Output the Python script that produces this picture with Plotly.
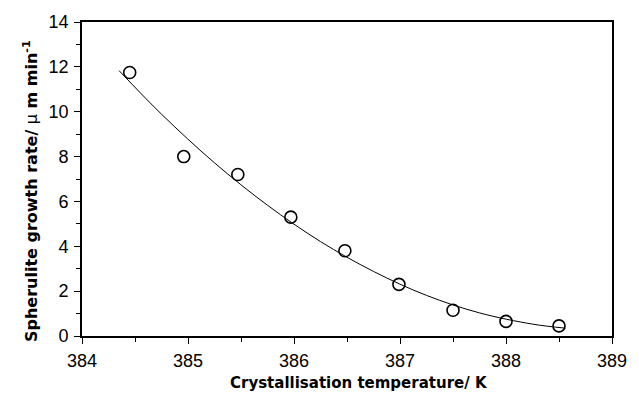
import plotly.graph_objects as go

# Measured spherulite growth rates
temperature_K = [384.45, 384.96, 385.47, 385.97, 386.48, 386.99, 387.50, 388.00, 388.50]
growth_rate = [11.75, 8.00, 7.20, 5.30, 3.80, 2.30, 1.15, 0.65, 0.45]

# Trend line through the data
fit_T = [384.35, 384.75, 385.25, 385.75, 386.25, 386.75, 387.25, 387.75, 388.25, 388.56]
fit_rate = [11.83, 9.89, 7.72, 5.83, 4.21, 2.88, 1.81, 1.03, 0.53, 0.35]

x_ticks = [384, 385, 386, 387, 388, 389]
y_ticks = [0, 2, 4, 6, 8, 10, 12, 14]

x_title = "<b>Crystallisation temperature/ K</b>"
y_title = "<b>Spherulite growth rate/ </b>\u03bc<b> m min</b><sup><b>-1</b></sup>"

fig = go.Figure()
fig.add_trace(go.Scatter(
    x=fit_T, y=fit_rate, mode="lines", line_shape="spline",
    line=dict(color="black", width=1), showlegend=False, hoverinfo="skip"))
fig.add_trace(go.Scatter(
    x=temperature_K, y=growth_rate, mode="markers",
    marker=dict(symbol="circle-open", size=12, color="black", line=dict(width=1.6)),
    showlegend=False))

axis_common = dict(
    showgrid=False, zeroline=False, showline=True, linecolor="black", linewidth=1.8,
    mirror=True, ticks="outside", ticklen=6, tickwidth=1.3, tickcolor="black",
    tickfont=dict(family="Liberation Sans, Arial", size=18, color="black"),
)

fig.update_xaxes(
    range=[384, 389], tickvals=x_ticks, ticktext=[str(v) for v in x_ticks],
    minor=dict(dtick=0.5, ticks="outside", ticklen=4, tickwidth=1.2, tickcolor="black"),
    ticklabelstandoff=1,
    **axis_common)
fig.update_yaxes(
    range=[0, 14], tickvals=y_ticks, ticktext=[str(v) for v in y_ticks],
    minor=dict(dtick=1, ticks="outside", ticklen=4, tickwidth=1.2, tickcolor="black"),
    ticklabelstandoff=2,
    **axis_common)

# Axis titles
fig.add_annotation(
    text=x_title, xref="paper", yref="paper", x=0.523, y=-0.149,
    xanchor="center", yanchor="middle", showarrow=False,
    font=dict(family="DejaVu Sans", size=15, color="black"))
fig.add_annotation(
    text=y_title, xref="paper", yref="paper", x=-0.096, y=0.462,
    xanchor="center", yanchor="middle", showarrow=False, textangle=-90,
    font=dict(family="DejaVu Sans", size=16, color="black"))

fig.update_layout(
    width=639, height=402, margin=dict(l=82, r=16, t=20, b=66),
    plot_bgcolor="white", paper_bgcolor="white",
)

fig.write_html("out.html")
